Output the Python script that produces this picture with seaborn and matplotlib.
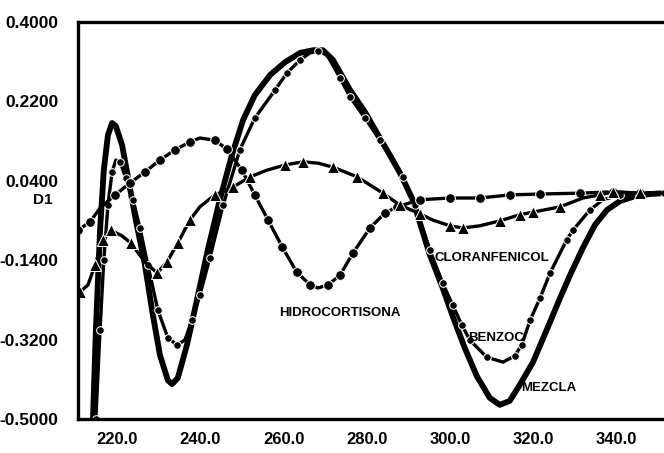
import matplotlib
matplotlib.use("Agg")
import matplotlib.pyplot as plt
import seaborn as sns
from matplotlib.transforms import ScaledTranslation

# First-derivative (D1) spectra: wavelength in nm and D1 value
mezcla_nm = [206.8, 207.5, 208.2, 209.2, 210.1, 211.1, 212.1, 213.0, 214.5, 215.9,
             217.8, 220.0, 221.7, 223.6, 225.5, 226.5, 227.9, 230.1, 232.5, 235.1,
             238.0, 240.9, 243.6, 246.4, 250.1, 253.7, 257.3, 260.4, 262.8, 265.2,
             269.3, 272.9, 275.8, 278.9, 281.3, 284.4, 288.5, 291.6, 294.0, 296.9,
             299.8, 302.9, 305.3, 307.7, 310.1, 313.3, 316.6, 319.8, 322.2, 325.3,
             328.2, 331.1, 334.2, 337.8, 341.4, 344.8]
mezcla_d1 = [-0.548, -0.500, -0.298, -0.072, 0.064, 0.144, 0.171, 0.164, 0.121, 0.049,
             -0.049, -0.151, -0.253, -0.355, -0.412, -0.421, -0.407, -0.332, -0.230, -0.117,
             -0.003, 0.098, 0.178, 0.234, 0.280, 0.309, 0.330, 0.336, 0.336, 0.314,
             0.246, 0.196, 0.148, 0.098, 0.058, -0.003, -0.128, -0.203, -0.267, -0.339,
             -0.403, -0.452, -0.468, -0.459, -0.423, -0.371, -0.298, -0.226, -0.174, -0.112,
             -0.060, -0.026, -0.006, 0.005, 0.010, 0.012]

benzoc_nm = [207.5, 208.2, 209.2, 210.1, 211.1, 212.1, 213.0, 214.0, 215.4, 217.1,
             218.8, 220.7, 223.1, 225.5, 227.7, 229.6, 231.3, 233.2, 235.6, 238.8,
             242.8, 246.4, 251.3, 254.1, 257.3, 259.7, 261.6, 263.8, 266.9, 269.3,
             272.9, 276.5, 282.0, 284.9, 288.5, 291.6, 294.0, 296.2, 298.1, 302.2,
             306.1, 308.9, 310.6, 312.6, 315.0, 317.4, 321.4, 322.9, 327.0, 330.1,
             334.2, 339.0, 344.8]
benzoc_d1 = [-0.548, -0.500, -0.298, -0.140, -0.015, 0.060, 0.087, 0.083, 0.046, -0.003,
             -0.067, -0.151, -0.253, -0.316, -0.332, -0.321, -0.276, -0.219, -0.135, -0.015,
             0.110, 0.182, 0.246, 0.284, 0.314, 0.330, 0.334, 0.325, 0.273, 0.230,
             0.182, 0.132, 0.049, -0.015, -0.117, -0.192, -0.242, -0.287, -0.321, -0.360,
             -0.371, -0.357, -0.332, -0.276, -0.226, -0.169, -0.094, -0.072, -0.026, -0.003,
             0.008, 0.012, 0.012]

hidro_nm = [203.9, 206.8, 209.2, 212.8, 216.4, 220.0, 223.6, 227.2, 230.8, 233.2,
            236.8, 239.7, 243.3, 246.4, 249.6, 253.0, 256.5, 259.7, 261.6, 264.0,
            266.9, 270.0, 274.1, 277.7, 280.6, 286.1, 293.3, 300.5, 307.7, 315.0,
            324.6, 332.5, 339.0, 344.8]
hidro_d1 = [-0.072, -0.053, -0.022, 0.008, 0.035, 0.060, 0.087, 0.110, 0.128, 0.137,
            0.132, 0.112, 0.064, 0.008, -0.049, -0.110, -0.167, -0.196, -0.203, -0.196,
            -0.174, -0.124, -0.067, -0.033, -0.019, -0.003, 0.001, 0.001, 0.008, 0.010,
            0.012, 0.015, 0.012, 0.012]

clor_nm = [204.4, 206.3, 208.0, 209.9, 211.8, 214.5, 216.6, 220.0, 222.9, 225.3,
           227.9, 230.8, 233.2, 236.8, 241.2, 245.3, 249.3, 253.7, 258.0, 261.6,
           265.2, 271.0, 277.2, 281.3, 286.1, 289.2, 293.3, 296.4, 300.5, 305.3,
           310.1, 313.3, 319.8, 325.3, 329.4, 332.5, 339.0, 344.8]
clor_d1 = [-0.212, -0.196, -0.151, -0.094, -0.072, -0.085, -0.101, -0.144, -0.169, -0.144,
           -0.101, -0.049, -0.019, 0.008, 0.026, 0.049, 0.064, 0.076, 0.083, 0.080,
           0.071, 0.049, 0.012, -0.015, -0.035, -0.049, -0.062, -0.067, -0.062, -0.051,
           -0.037, -0.031, -0.019, 0.001, 0.008, 0.015, 0.012, 0.012]

x_ticks = [220, 240, 260, 280, 300, 320, 340]
x_tick_labels = ["220.0", "240.0", "260.0", "280.0", "300.0", "320.0", "340.0"]
y_ticks = [0.40, 0.22, 0.04, -0.14, -0.32, -0.50]
y_tick_labels = ["0.4000", "0.2200", "0.0400", "-0.1400", "-0.3200", "-0.5000"]

sns.set_style("white")
plt.rcParams["font.family"] = ["Liberation Sans", "DejaVu Sans"]
plt.rcParams["font.weight"] = "bold"

fig = plt.figure(figsize=(6.64, 4.53), dpi=100)
ax = fig.add_axes([78 / 664, 34 / 453, 586 / 664, 397 / 453])

ink = "black"

sns.lineplot(x=mezcla_nm, y=mezcla_d1, ax=ax, color=ink, lw=4.2,
             sort=False, estimator=None)
sns.lineplot(x=benzoc_nm, y=benzoc_d1, ax=ax, color=ink, lw=2.4,
             marker="o", markersize=5.5, markevery=0.034,
             sort=False, estimator=None)
sns.lineplot(x=hidro_nm, y=hidro_d1, ax=ax, color=ink, lw=2.4,
             marker="o", markersize=7, markevery=0.03,
             sort=False, estimator=None)
sns.lineplot(x=clor_nm, y=clor_d1, ax=ax, color=ink, lw=2.4,
             marker="^", markersize=8, markevery=0.036,
             sort=False, estimator=None)

ax.set_xlim(203.9, 344.8)
ax.set_ylim(-0.50, 0.40)

ax.set_xticks(x_ticks)
ax.set_xticklabels(x_tick_labels, fontsize=12, fontweight="bold")
ax.set_yticks(y_ticks)
ax.set_yticklabels(y_tick_labels, fontsize=12.5, fontweight="bold")
ax.tick_params(axis="x", direction="out", length=5, width=1.6, pad=4, colors=ink)
ax.tick_params(axis="y", direction="out", length=3, width=1.6, pad=11, colors=ink)

# plotter-style labels sit just left of their tick marks
shift = ScaledTranslation(-7 / 100, 0, fig.dpi_scale_trans)
for lab in ax.get_xticklabels():
    lab.set_horizontalalignment("right")
    lab.set_transform(lab.get_transform() + shift)

for side in ["left", "bottom", "top"]:
    ax.spines[side].set_visible(True)
    ax.spines[side].set_color(ink)
    ax.spines[side].set_linewidth(2.4)
ax.spines["right"].set_visible(False)
ax.set_xlabel("")
ax.set_ylabel("")

fig.text(43 / 664, 1 - 200 / 453, "D1", ha="center", va="center",
         fontsize=11, fontweight="bold", color=ink)

lab_kw = dict(ha="center", va="center", fontsize=9.5, fontweight="bold", color=ink)
ax.text(266.9, -0.260, "HIDROCORTISONA", **lab_kw)
ax.text(303.4, -0.135, "CLORANFENICOL", **lab_kw)
ax.text(304.4, -0.317, "BENZOC", **lab_kw)
ax.text(317.2, -0.430, "MEZCLA", **lab_kw)

fig.savefig("out.png", dpi=100, facecolor="white")
